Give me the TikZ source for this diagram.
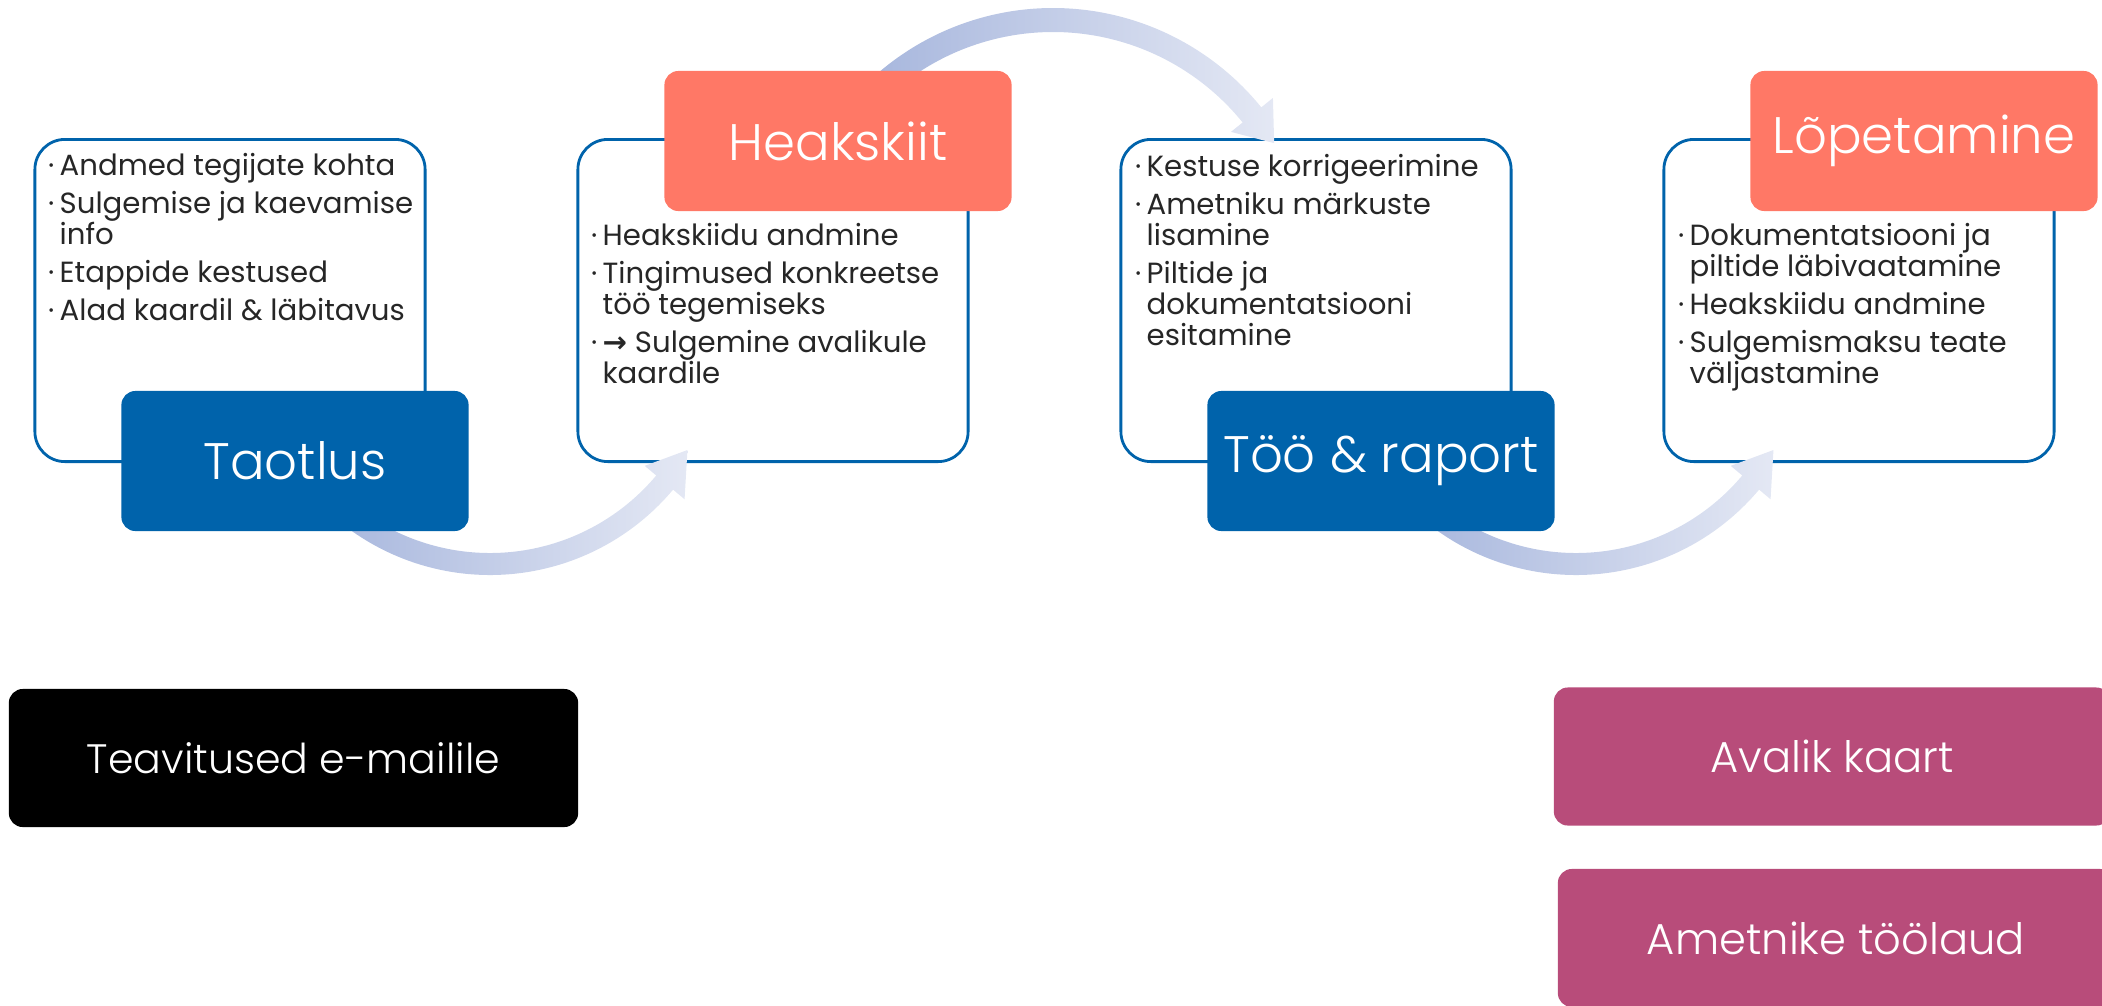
\documentclass[tikz,border=0pt]{standalone}
\usepackage{fontspec}
\setmainfont{Poppins}
\newfontfamily\thinfont{Poppins Light}
\newfontfamily\symfont{DejaVu Sans}

\definecolor{stageblue}{HTML}{0063AB}
\definecolor{stagered}{HTML}{FF7866}
\definecolor{viewpink}{HTML}{B84C7A}
\definecolor{arrowdark}{HTML}{A4B4DC}
\definecolor{arrowlight}{HTML}{E4E8F4}

\newcommand{\listbul}{\makebox[0.115cm][l]{·}}
\newcommand{\listind}{\hspace*{0.115cm}}
\newcommand{\itemgap}{2pt}

\begin{document}
\begin{tikzpicture}[x=0.01cm, y=-0.01cm,
    listbox/.style={draw=stageblue, line width=0.8pt, rounded corners=0.3cm,
        minimum width=3.9cm, minimum height=3.22cm, inner sep=0pt},
    titlebox/.style={rounded corners=0.14cm, minimum width=3.47cm, minimum height=1.4cm,
        inner sep=0pt, text=white, font=\thinfont\fontsize{14.6}{18}\selectfont},
    notebox/.style={rounded corners=0.14cm, minimum height=1.38cm, inner sep=0pt,
        text=white, font=\thinfont\fontsize{12.3}{15}\selectfont},
    listtext/.style={anchor=north west, align=left, inner sep=0pt, text=black!85,
        font=\fontsize{8.3}{8.8}\selectfont},
    flow/.style={left color=arrowdark, right color=arrowlight}]
    \useasboundingbox (0,0) rectangle (2102,1005);

    \node[listbox] (w1) at (230,300.5) {};
    \node[listbox] (w2) at (773,300.5) {};
    \node[listbox] (w3) at (1316,300.5) {};
    \node[listbox] (w4) at (1859,300.5) {};

    \coordinate (c1) at (490,336);
    \coordinate (c2) at (1053,276);
    \coordinate (c3) at (1576,336);
    \begin{scope}[shift={(c1)}]
        \shade[flow] (140:239) arc[start angle=140, end angle=40, radius=239] -- (40:254) -- (30:228)
            -- (40:202) -- (40:217) arc[start angle=40, end angle=140, radius=217] -- cycle;
    \end{scope}
    \begin{scope}[shift={(c2)}]
        \shade[flow] (-140:268) arc[start angle=-140, end angle=-39, radius=268] -- (-39:283) -- (-31:258)
            -- (-39:229) -- (-39:244) arc[start angle=-39, end angle=-140, radius=244] -- cycle;
    \end{scope}
    \begin{scope}[shift={(c3)}]
        \shade[flow] (140:239) arc[start angle=140, end angle=40, radius=239] -- (40:254) -- (30:228)
            -- (40:202) -- (40:217) arc[start angle=40, end angle=140, radius=217] -- cycle;
    \end{scope}

    \node[titlebox, fill=stageblue] (t1) at (295,461) {Taotlus};
    \node[titlebox, fill=stagered] (t2) at (838,141) {Heakskiit};
    \node[titlebox, fill=stageblue] (t3) at (1381,461) {Töö \& raport};
    \node[titlebox, fill=stagered] (t4) at (1924,141) {Lõpetamine};

    \node[listtext] (l1) at (47.5,153) {\listbul Andmed tegijate kohta\\[\itemgap]
        \listbul Sulgemise ja kaevamise\\
        \listind info\\[\itemgap]
        \listbul Etappide kestused\\[\itemgap]
        \listbul Alad kaardil \& läbitavus};
    \node[listtext] (l2) at (590.5,223) {\listbul Heakskiidu andmine\\[\itemgap]
        \listbul Tingimused konkreetse\\
        \listind töö tegemiseks\\[\itemgap]
        \listbul {\symfont\bfseries →} Sulgemine avalikule\\
        \listind kaardile};
    \node[listtext] (l3) at (1134.5,154) {\listbul Kestuse korrigeerimine\\[\itemgap]
        \listbul Ametniku märkuste\\
        \listind lisamine\\[\itemgap]
        \listbul Piltide ja\\
        \listind dokumentatsiooni\\
        \listind esitamine};
    \node[listtext] (l4) at (1677.5,223) {\listbul Dokumentatsiooni ja\\
        \listind piltide läbivaatamine\\[\itemgap]
        \listbul Heakskiidu andmine\\[\itemgap]
        \listbul Sulgemismaksu teate\\
        \listind väljastamine};

    \node[notebox, fill=black, minimum width=5.69cm, font=\thinfont\fontsize{11.7}{15}\selectfont] (mail) at (293.5,758) {Teavitused e-mailile};
    \node[notebox, fill=viewpink, minimum width=5.56cm] (pub) at (1832,756.5) {Avalik kaart};
    \node[notebox, fill=viewpink, minimum width=5.56cm] (desk) at (1836,938) {Ametnike töölaud};
\end{tikzpicture}
\end{document}
